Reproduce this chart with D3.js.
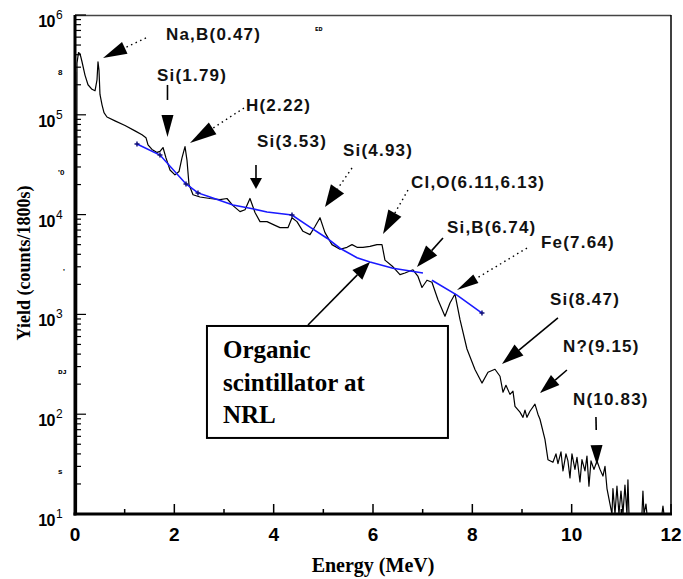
<!DOCTYPE html>
<html><head><meta charset="utf-8">
<script src="https://cdn.jsdelivr.net/npm/d3@7"></script>
<style>body{margin:0;background:#fff}</style></head>
<body>
<svg id="c" width="683" height="579"></svg>
<script>
// ---------- data ----------
const spectrumE = [0.01,0.01,0.03,0.04,0.070,0.101,0.141,0.201,0.262,0.342,0.403,0.443,0.463,0.483,0.503,0.544,0.584,0.644,0.805,1.007,1.208,1.349,1.429,1.470,1.550,1.651,1.711,1.772,1.832,1.913,2.013,2.094,2.154,2.215,2.255,2.295,2.376,2.517,2.718,2.919,3.060,3.181,3.322,3.423,3.523,3.624,3.725,3.866,4.027,4.127,4.288,4.369,4.469,4.590,4.731,4.832,4.933,5.033,5.174,5.335,5.476,5.577,5.678,5.798,5.939,6.080,6.181,6.241,6.402,6.543,6.644,6.805,6.906,6.986,7.087,7.187,7.308,7.449,7.550,7.651,7.751,7.892,8.053,8.194,8.315,8.456,8.557,8.617,8.677,8.758,8.818,8.859,8.959,9.020,9.060,9.100,9.160,9.261,9.321,9.362,9.462,9.523,9.623,9.684,9.724,9.785,9.825,9.885,9.925,9.966,10.006,10.066,10.107,10.167,10.207,10.268,10.308,10.348,10.389,10.449,10.510,10.570,10.630,10.671,10.711,10.771,10.811,10.831,10.872,10.912,10.952,10.993,11.033,11.073,11.113,11.133,11.154,11.415,11.435,11.456,11.496,11.516,11.818,11.838,11.858];
const spectrumY = [10,2.7e5,10,3.3e5,4.2e5,4.1e5,3.4e5,2.5e5,2.0e5,1.8e5,1.74e5,2.24e5,3.4e5,2.8e5,1.6e5,1.26e5,1.05e5,9.5e4,8.7e4,7.8e4,6.9e4,6.3e4,5.9e4,5.0e4,4.5e4,4.2e4,4.3e4,4.7e4,3.7e4,2.8e4,2.5e4,2.7e4,3.7e4,4.8e4,3.5e4,2.0e4,1.58e4,1.5e4,1.45e4,1.41e4,1.45e4,1.23e4,1.07e4,1.12e4,1.45e4,1.05e4,8.5e3,8.5e3,7.8e3,7.4e3,7.4e3,9.3e3,8.5e3,6.8e3,6.3e3,7.6e3,9.3e3,6.6e3,5.0e3,4.5e3,4.7e3,5.0e3,4.7e3,4.7e3,4.8e3,5.0e3,5.0e3,3.5e3,3.0e3,2.5e3,2.6e3,2.8e3,2.4e3,1.86e3,2.2e3,2.1e3,1.4e3,960,1.3e3,1.6e3,890,450,280,205,263,282,240,166,195,158,170,120,105,93,110,93,107,126,100,89,56,35,33,40,32,42,27,40,34,23,40,28,37,21,35,27,38,19,34,28,34,28,24,30,18,12.6,10,18,10,19,10,17,10,19.5,10,22,10,10,17,10,12.6,10,10,12,10];

const fitE = [1.248,1.711,2.235,2.476,2.718,3.181,3.523,3.866,4.369,4.731,5.074,5.335,5.678,5.939,6.402,7.006,null,7.187,7.691,8.194];
const fitY = [5.1e4,3.95e4,2.03e4,1.65e4,1.50e4,1.25e4,1.16e4,1.06e4,9.9e3,7.5e3,5.8e3,4.6e3,3.7e3,3.35e3,2.9e3,2.6e3,null,2.2e3,1.56e3,1.03e3];
const fitMarked = [1,1,1,1,0,0,0,0,1,0,0,0,0,0,0,0,0,0,0,1];

const xTickValues = [0,1,2,3,4,5,6,7,8,9,10,11,12];
const xTickLabels = ["0","","2","","4","","6","","8","","10","","12"];
const yTickExponents = [1,2,3,4,5,6];

const peakLabels = ["Na,B(0.47)","Si(1.79)","H(2.22)","Si(3.53)","Si(4.93)","Cl,O(6.11,6.13)","Si,B(6.74)","Fe(7.64)","Si(8.47)","N?(9.15)","N(10.83)"];
const labelE    = [1.832,1.651,3.443,3.664,5.396,6.765,7.489,9.382,9.563,9.825,10.026];
const labelLogY = [5.749,5.339,5.038,4.677,4.587,4.267,3.816,3.665,3.094,2.623,2.092];

const arrowFromE    = [1.429,1.862,3.402,3.644,5.577,6.704,7.409,9.100,9.724,9.905,10.489,4.691];
const arrowFromLogY = [5.770,5.299,5.068,4.497,4.467,4.246,3.766,3.665,2.964,2.443,1.972,2.894];
const arrowToE      = [0.564,1.862,2.315,3.644,5.033,6.201,6.885,7.691,8.597,9.362,10.509,5.939];
const arrowToLogY   = [5.569,4.778,4.717,4.257,4.076,3.806,3.475,3.244,2.503,2.212,1.491,3.525];
const arrowDotted   = [1,0,1,0,1,1,0,1,0,0,0,0];

const boxLines = ["Organic","scintillator at","NRL"];
const boxLineLogY = [2.563,2.232,1.912];
const boxCornersE = [2.657,7.509];
const boxCornersLogY = [2.884,1.762];
const boxTextE = 2.98;

const xTitle = "Energy (MeV)";
const yTitle = "Yield (counts/1800s)";

// ---------- layout/styles ----------
const arrowShapes = [ // headLen, headWidth, gap
  [24,13,0],[22,12,15],[27,14,0],[11,12,0],[22,16,0],[24,15,0],[22,15,0],[22,10,0],[22,14,0],[20,13,0],[20,12,15],[18,14,0]
];
const SANS = "'Liberation Sans', Arial, sans-serif";
const SERIF = "'Liberation Serif', 'Times New Roman', serif";

const svg = d3.select("#c");
const x = d3.scaleLinear().domain([0,12]).range([75,671]);
const y = d3.scaleLog().domain([10,1e6]).range([514,15]);
const yl = v => y(Math.pow(10, v));

// frame
svg.append("line").attr("x1",75).attr("x2",671).attr("y1",15.5).attr("y2",15.5).attr("stroke","#444").attr("stroke-width",1.6);
svg.append("line").attr("x1",671).attr("x2",671).attr("y1",15).attr("y2",514).attr("stroke","#000").attr("stroke-width",1.5);

// y ticks (inside)
y.ticks().forEach(v => {
  const e = Math.log10(v);
  const major = Math.abs(e - Math.round(e)) < 1e-9;
  svg.append("line").attr("x1",75).attr("x2",75 + (major ? 11 : 6))
    .attr("y1",y(v)).attr("y2",y(v)).attr("stroke","#000").attr("stroke-width",1.2);
});
// x ticks (inside, upward)
xTickValues.forEach((v,i) => {
  const major = xTickLabels[i] !== "";
  svg.append("line").attr("x1",x(v)).attr("x2",x(v)).attr("y1",514).attr("y2",514 - (major ? 10 : 5))
    .attr("stroke","#000").attr("stroke-width",1.5);
  if (major) svg.append("text").attr("x",x(v)).attr("y",541).attr("text-anchor","middle")
    .attr("font-family",SANS).attr("font-weight","bold").attr("font-size",19).text(xTickLabels[i]);
});
// y tick labels 10^n
yTickExponents.forEach(n => {
  const yy = y(Math.pow(10,n));
  svg.append("text").attr("x",55).attr("y",yy+12).attr("text-anchor","end")
    .attr("font-family",SANS).attr("font-weight","bold").attr("font-size",16).attr("letter-spacing",-0.5).text("10");
  svg.append("text").attr("x",56).attr("y",yy+4)
    .attr("font-family",SANS).attr("font-size",12).text(String(n));
});
// small garbled intermediate labels
const garble = ["8","'0","'","\u1D05\u1D0A","s"];
[5,4,3,2,1].forEach((n,i) => {
  svg.append("text").attr("x",i===2?63:58).attr("y",y(2.7*Math.pow(10,n))+3)
    .attr("font-family",SANS).attr("font-weight","bold").attr("font-size",8).text(garble[i]);
});
// tiny stray mark near the top
svg.append("text").attr("x",315).attr("y",31).attr("font-family",SANS).attr("font-weight","bold")
  .attr("font-size",7).text("\u1D07\u1D05");

// axes lines
svg.append("line").attr("x1",75).attr("x2",75).attr("y1",15).attr("y2",515.5).attr("stroke","#000").attr("stroke-width",3);
svg.append("line").attr("x1",73.5).attr("x2",672).attr("y1",514).attr("y2",514).attr("stroke","#000").attr("stroke-width",3);

// spectrum
const spec = spectrumE.map((e,i) => [e, spectrumY[i]]);
svg.append("path").datum(spec)
  .attr("d", d3.line().x(d=>x(d[0])).y(d=>y(Math.max(10,d[1]))))
  .attr("fill","none").attr("stroke","#000").attr("stroke-width",1.2).attr("stroke-linejoin","round");

// fit (blue)
const fit = fitE.map((e,i) => [e, fitY[i], fitMarked[i]]);
svg.append("path").datum(fit)
  .attr("d", d3.line().defined(d=>d[0]!=null).x(d=>x(d[0])).y(d=>y(d[1])))
  .attr("fill","none").attr("stroke","#1a1aff").attr("stroke-width",1.6);
svg.selectAll(".mk").data(fit.filter(d=>d[0]!=null && d[2])).enter().append("path")
  .attr("d", d => { const px=x(d[0]), py=y(d[1]); return `M${px-2.5},${py}H${px+2.5}M${px},${py-2.5}V${py+2.5}`; })
  .attr("stroke","#10107a").attr("stroke-width",1.5);

// peak labels
peakLabels.forEach((t,i) => {
  svg.append("text").attr("x",x(labelE[i])).attr("y",yl(labelLogY[i]))
    .attr("font-family",SANS).attr("font-weight","bold").attr("font-size",17).attr("letter-spacing",1.2)
    .attr("fill","#111").text(t);
});

// arrows
arrowFromE.forEach((_,i) => {
  const x0=x(arrowFromE[i]), y0=yl(arrowFromLogY[i]), x1=x(arrowToE[i]), y1=yl(arrowToLogY[i]);
  const [hl,hw,gap] = arrowShapes[i];
  const dx=x1-x0, dy=y1-y0, L=Math.hypot(dx,dy), ux=dx/L, uy=dy/L;
  const bx=x1-ux*hl, by=y1-uy*hl;
  const sx=bx-ux*gap, sy=by-uy*gap;
  svg.append("line").attr("x1",x0).attr("y1",y0).attr("x2",sx).attr("y2",sy)
    .attr("stroke","#000").attr("stroke-width",arrowDotted[i]?1.4:1.6)
    .attr("stroke-dasharray",arrowDotted[i]?"1.5,3.5":null);
  const px=-uy*hw/2, py=ux*hw/2;
  svg.append("path").attr("d",`M${x1},${y1}L${bx+px},${by+py}L${bx-px},${by-py}Z`).attr("fill","#000");
});

// box
const bx0=x(boxCornersE[0]), bx1=x(boxCornersE[1]), by0=yl(boxCornersLogY[0]), by1=yl(boxCornersLogY[1]);
svg.append("rect").attr("x",bx0).attr("y",by0).attr("width",bx1-bx0).attr("height",by1-by0)
  .attr("fill","#fff").attr("stroke","#000").attr("stroke-width",2);
boxLines.forEach((t,i) => {
  svg.append("text").attr("x",x(boxTextE)).attr("y",yl(boxLineLogY[i]))
    .attr("font-family",SERIF).attr("font-weight","bold").attr("font-size",25).text(t);
});

// axis titles
svg.append("text").attr("x",373).attr("y",572).attr("text-anchor","middle")
  .attr("font-family",SERIF).attr("font-weight","bold").attr("font-size",20).text(xTitle);
svg.append("text").attr("transform","translate(30,263) rotate(-90)").attr("text-anchor","middle")
  .attr("font-family",SERIF).attr("font-weight","bold").attr("font-size",18).text(yTitle);
</script>
</body></html>
